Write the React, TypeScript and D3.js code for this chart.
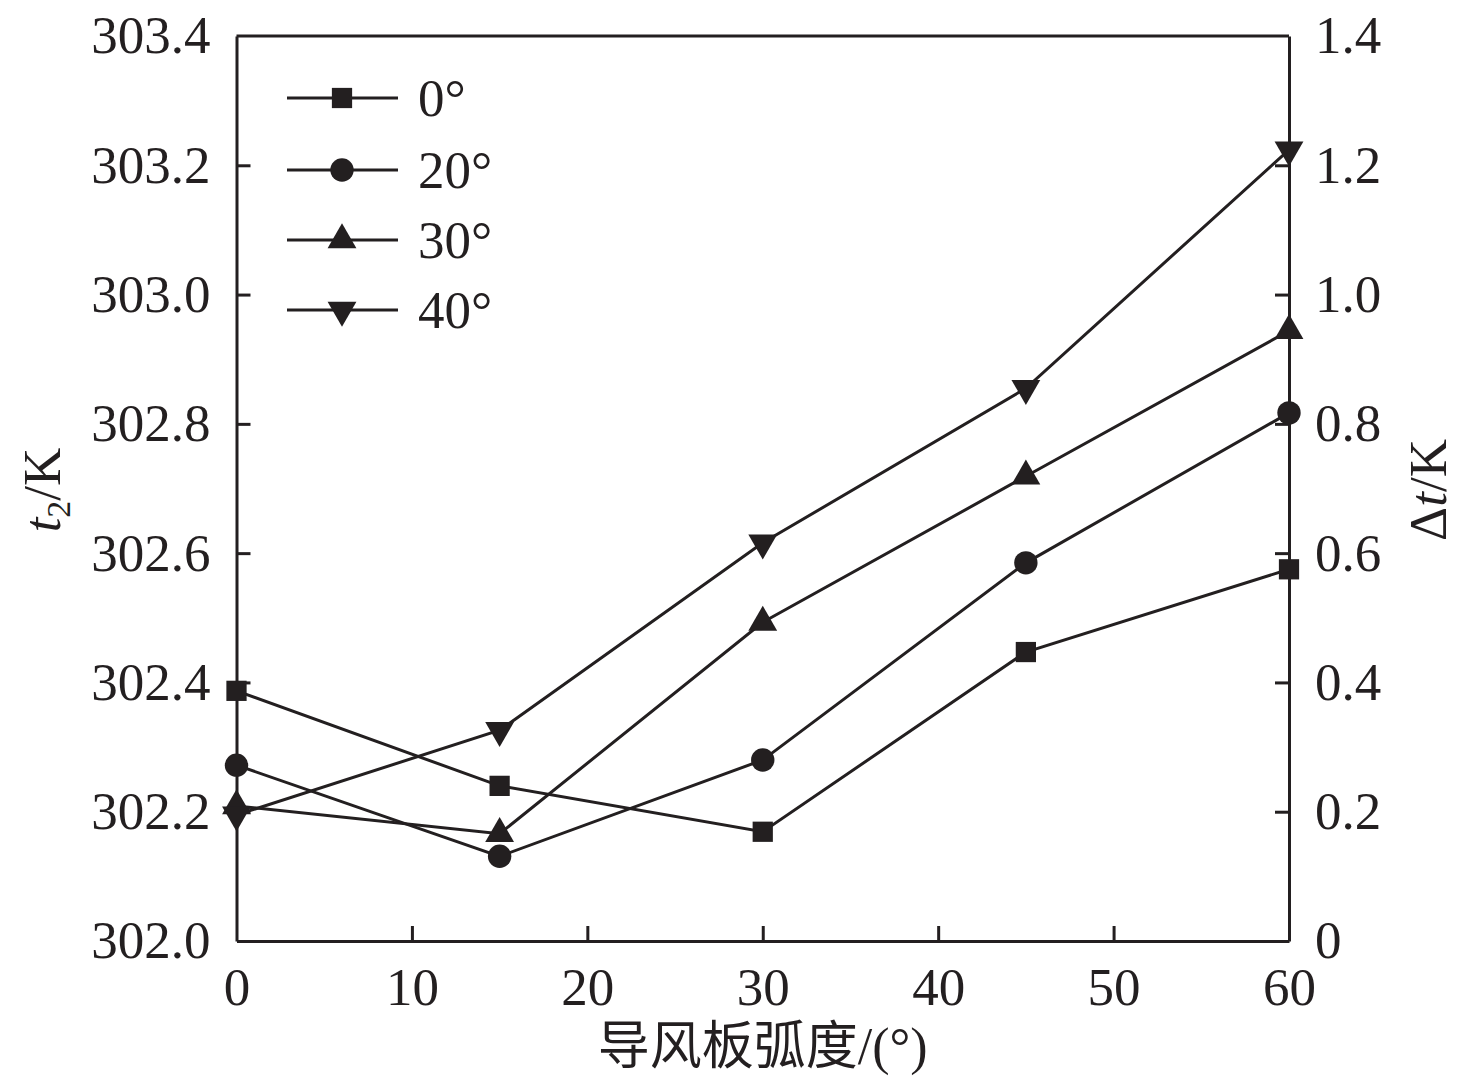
import React, { useEffect, useRef } from 'react';
import * as d3 from 'd3';

const angles = [0, 15, 30, 45, 60];
const seriesNames = ['0°', '20°', '30°', '40°'];
const s0 = [302.387, 302.24, 302.169, 302.447, 302.575];
const s20 = [302.272, 302.131, 302.28, 302.585, 302.817];
const s30 = [302.209, 302.166, 302.493, 302.719, 302.944];
const s40 = [302.195, 302.326, 302.616, 302.855, 303.224];
const xTicks = [0, 10, 20, 30, 40, 50, 60];
const leftTicks = [302.0, 302.2, 302.4, 302.6, 302.8, 303.0, 303.2, 303.4];
const rightTicks = [0, 0.2, 0.4, 0.6, 0.8, 1.0, 1.2, 1.4];

const W = 1476;
const H = 1089;
const serif = '"Liberation Serif", "Times New Roman", serif';

const App: React.FC = () => {
  const svgRef = useRef<SVGSVGElement | null>(null);

  useEffect(() => {
    document.body.style.margin = '0';
    const svgEl = svgRef.current;
    if (!svgEl) return;
    const svg = d3.select(svgEl);
    svg.selectAll('*').remove();

    const left = 236.5, right = 1289, top = 36, bottom = 941;
    const x = d3.scaleLinear().domain([0, 60]).range([left, right]);
    const y = d3.scaleLinear().domain([302.0, 303.4]).range([bottom, top]);
    const yR = d3.scaleLinear().domain([0, 1.4]).range([bottom, top]);

    const black = '#231f20';
    const fontSize = 53;

    // axes: ticks point inward, no ticks on top edge
    const axisG = svg.append('g');
    axisG.append('g')
      .attr('transform', `translate(0,${bottom})`)
      .call(d3.axisBottom(x).tickValues(xTicks).tickSizeInner(-15).tickSizeOuter(0).tickPadding(26).tickFormat(d3.format('d')));
    axisG.append('g')
      .attr('transform', `translate(${left},0)`)
      .call(d3.axisLeft(y).tickValues(leftTicks).tickSizeInner(-14).tickSizeOuter(0).tickPadding(26).tickFormat(d3.format('.1f')));
    axisG.append('g')
      .attr('transform', `translate(${right},0)`)
      .call(d3.axisRight(yR).tickValues(rightTicks).tickSizeInner(-14).tickSizeOuter(0).tickPadding(26)
        .tickFormat((d) => (d === 0 ? '0' : d3.format('.1f')(d as number))));
    axisG.append('line')
      .attr('x1', left).attr('x2', right).attr('y1', top).attr('y2', top)
      .attr('stroke', black).attr('stroke-width', 3);
    axisG.selectAll('path.domain').attr('stroke', black).attr('stroke-width', 3);
    axisG.selectAll('.tick line').attr('stroke', black).attr('stroke-width', 3);
    axisG.selectAll('.tick text')
      .attr('fill', black)
      .attr('font-family', serif)
      .attr('font-size', fontSize);
    axisG.selectAll('g.tick').filter((d) => d === 302.0 || d === 303.4 || d === 0 || d === 1.4 || d === 60)
      .select('line').attr('display', 'none');

    const data = [s0, s20, s30, s40];
    const symbols = [
      d3.symbol().type(d3.symbolSquare).size(410),
      d3.symbol().type(d3.symbolCircle).size(430),
      d3.symbol().type(d3.symbolTriangle).size(360),
      d3.symbol().type(d3.symbolTriangle).size(360),
    ];
    const rot = [0, 0, 0, 180];

    const line = d3.line<number>().x((_, i) => x(angles[i])).y((d) => y(d));

    data.forEach((vals) => {
      svg.append('path')
        .attr('d', line(vals) as string)
        .attr('fill', 'none')
        .attr('stroke', black)
        .attr('stroke-width', 3);
    });
    data.forEach((vals, si) => {
      svg.append('g').selectAll('path')
        .data(vals)
        .join('path')
        .attr('d', symbols[si]() as string)
        .attr('transform', (d, i) => `translate(${x(angles[i])},${y(d)}) rotate(${rot[si]})`)
        .attr('fill', black);
    });

    // legend
    const legendRows = [98, 170, 240, 310];
    seriesNames.forEach((name, si) => {
      const ly = legendRows[si];
      const lg = svg.append('g');
      lg.append('line').attr('x1', 287).attr('x2', 398).attr('y1', ly).attr('y2', ly)
        .attr('stroke', black).attr('stroke-width', 3);
      lg.append('path').attr('d', symbols[si]() as string)
        .attr('transform', `translate(342,${ly}) rotate(${rot[si]})`)
        .attr('fill', black);
      lg.append('text').attr('x', 418).attr('y', ly + 18)
        .attr('font-family', serif).attr('font-size', fontSize).attr('fill', black)
        .text(name);
    });

    // axis titles
    const lt = svg.append('text')
      .attr('transform', `translate(60,490) rotate(-90)`)
      .attr('text-anchor', 'middle')
      .attr('font-family', serif).attr('font-size', fontSize).attr('fill', black);
    lt.append('tspan').attr('font-style', 'italic').text('t');
    lt.append('tspan').attr('font-size', 34).attr('dy', 10).text('2');
    lt.append('tspan').attr('dy', -10).text('/K');

    const rt = svg.append('text')
      .attr('transform', `translate(1446,490) rotate(-90)`)
      .attr('text-anchor', 'middle')
      .attr('font-family', serif).attr('font-size', fontSize).attr('fill', black);
    rt.append('tspan').text('Δ');
    rt.append('tspan').attr('font-style', 'italic').text('t');
    rt.append('tspan').text('/K');

    svg.append('text')
      .attr('x', (left + right) / 2)
      .attr('y', 1064)
      .attr('text-anchor', 'middle')
      .attr('font-family', `${serif}, "Noto Sans CJK SC"`)
      .attr('font-size', 52)
      .attr('fill', black)
      .text('导风板弧度/(°)');
  }, []);

  return (
    <svg ref={svgRef} width={W} height={H} viewBox={`0 0 ${W} ${H}`} style={{ display: 'block', background: '#fff' }} />
  );
};

export default App;
